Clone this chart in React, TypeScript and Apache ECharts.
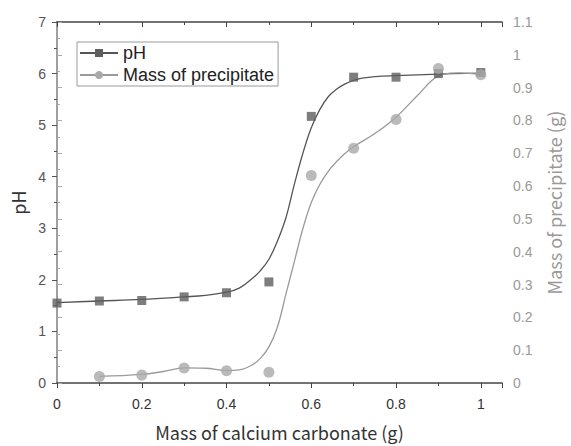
import React, { useEffect, useRef } from "react";
import * as echarts from "echarts";

// Measured points
const pointX = [0, 0.1, 0.2, 0.3, 0.4, 0.5, 0.6, 0.7, 0.8, 0.9, 1.0];
const phPoints = [1.55, 1.59, 1.60, 1.67, 1.75, 1.96, 5.17, 5.93, 5.93, 6.0, 6.02];
const massX = [0.1, 0.2, 0.3, 0.4, 0.5, 0.6, 0.7, 0.8, 0.9, 1.0];
const massPoints = [0.02, 0.024, 0.046, 0.037, 0.033, 0.632, 0.715, 0.803, 0.958, 0.939];

// Fitted curves
const phCurveX = [0, 0.1, 0.2, 0.3, 0.35, 0.4, 0.43, 0.46, 0.48, 0.5, 0.52, 0.54, 0.56, 0.58, 0.6, 0.62, 0.64, 0.66, 0.68, 0.7, 0.72, 0.75, 0.8, 0.9, 1.0];
const phCurveY = [1.56, 1.59, 1.62, 1.67, 1.70, 1.76, 1.84, 2.02, 2.18, 2.4, 2.75, 3.2, 3.85, 4.45, 4.95, 5.3, 5.55, 5.7, 5.8, 5.87, 5.91, 5.94, 5.96, 5.99, 6.01];
const massCurveX = [0.1, 0.2, 0.25, 0.3, 0.35, 0.4, 0.43, 0.46, 0.48, 0.5, 0.52, 0.54, 0.56, 0.58, 0.6, 0.62, 0.64, 0.66, 0.68, 0.7, 0.75, 0.8, 0.85, 0.9, 0.95, 1.0];
const massCurveY = [0.02, 0.026, 0.035, 0.046, 0.045, 0.038, 0.04, 0.055, 0.075, 0.11, 0.17, 0.27, 0.37, 0.47, 0.55, 0.605, 0.645, 0.675, 0.70, 0.72, 0.76, 0.81, 0.875, 0.935, 0.945, 0.94];

const xTitle = "Mass of calcium carbonate (g)";
const yLeftTitle = "pH";
const yRightTitle = "Mass of precipitate (g)";
const seriesNames = ["pH", "Mass of precipitate"];

const DARK = "#5e5e5e";
const LIGHT = "#a9a9a9";
const TITLE_FONT = "'Noto Sans CJK JP', 'Noto Sans', sans-serif";
const TICK_FONT = "'Liberation Sans', Arial, sans-serif";

const zip = (xs: number[], ys: number[]) => xs.map((x, i) => [x, ys[i]]);

export default function App() {
  const ref = useRef<HTMLDivElement>(null);
  useEffect(() => {
    if (!ref.current) return;
    const chart = echarts.init(ref.current, undefined, { renderer: "svg" });
    const xCommon = {
      type: "value" as const,
      min: 0,
      max: 1.05,
      interval: 0.2,
      splitLine: { show: false },
    };
    chart.setOption({
      animation: false,
      backgroundColor: "#ffffff",
      grid: { left: 57, right: 61, top: 22, bottom: 59, containLabel: false },
      legend: {
        data: seriesNames,
        orient: "vertical",
        left: 77,
        top: 42,
        itemWidth: 38,
        itemHeight: 10,
        itemGap: 4,
        padding: [2, 4, 2, 2],
        borderColor: "#9a9a9a",
        borderWidth: 1,
        borderRadius: 0,
        textStyle: { fontFamily: TICK_FONT, fontSize: 18, lineHeight: 18, color: "#222" },
      },
      xAxis: [
        {
          ...xCommon,
          position: "bottom",
          name: xTitle,
          nameLocation: "middle",
          nameGap: 40,
          nameTextStyle: { fontFamily: TITLE_FONT, fontSize: 18, color: "#333" },
          axisLine: { onZero: false, lineStyle: { color: "#444", width: 1.5 } },
          axisTick: { inside: false, length: 5, lineStyle: { color: "#444" } },
          minorTick: { show: true, splitNumber: 2, length: 3, lineStyle: { color: "#444" } },
          axisLabel: {
            fontFamily: TICK_FONT,
            fontSize: 14,
            color: "#333",
            margin: 14,
            formatter: (v: number) => (Math.abs(v * 5 - Math.round(v * 5)) < 1e-6 ? String(Math.round(v * 10) / 10) : ""),
          },
        },
        {
          ...xCommon,
          position: "top",
          axisLine: { onZero: false, lineStyle: { color: "#444", width: 1.5 } },
          axisTick: { inside: true, length: 5, lineStyle: { color: "#444" } },
          minorTick: { show: true, splitNumber: 2, length: 3, lineStyle: { color: "#444" } },
          axisLabel: { show: false },
        },
      ],
      yAxis: [
        {
          type: "value",
          position: "left",
          min: 0,
          max: 7,
          interval: 1,
          name: yLeftTitle,
          nameLocation: "middle",
          nameGap: 28,
          nameTextStyle: { fontFamily: TITLE_FONT, fontSize: 18, color: "#333" },
          splitLine: { show: false },
          axisLine: { show: true, lineStyle: { color: "#555", width: 1.5 } },
          axisTick: { show: true, length: 5, lineStyle: { color: "#555" } },
          minorTick: { show: true, splitNumber: 2, length: 3, lineStyle: { color: "#555" } },
          axisLabel: { fontFamily: TICK_FONT, fontSize: 14, color: "#555", margin: 11 },
        },
        {
          type: "value",
          position: "right",
          min: 0,
          max: 1.1,
          interval: 0.1,
          name: yRightTitle,
          nameLocation: "middle",
          nameGap: 43,
          nameTextStyle: { fontFamily: TITLE_FONT, fontSize: 18, color: "#999" },
          splitLine: { show: false },
          axisLine: { show: true, lineStyle: { color: "#aaa", width: 1.5 } },
          axisTick: { show: true, length: 5, lineStyle: { color: "#aaa" } },
          minorTick: { show: true, splitNumber: 2, length: 3, lineStyle: { color: "#aaa" } },
          axisLabel: {
            fontFamily: TICK_FONT,
            fontSize: 14,
            color: "#999",
            margin: 11,
            formatter: (v: number) => String(Math.round(v * 10) / 10),
          },
        },
      ],
      series: [
        {
          name: seriesNames[0],
          type: "line",
          xAxisIndex: 0,
          yAxisIndex: 0,
          data: zip(phCurveX, phCurveY),
          smooth: 0.4,
          symbol: "rect",
          symbolSize: 9,
          showSymbol: false,
          itemStyle: { color: DARK },
          lineStyle: { color: "#555", width: 1.3 },
          z: 2,
        },
        {
          name: seriesNames[0],
          type: "scatter",
          xAxisIndex: 0,
          yAxisIndex: 0,
          data: zip(pointX, phPoints),
          symbol: "rect",
          symbolSize: 9,
          itemStyle: { color: DARK },
          z: 3,
        },
        {
          name: seriesNames[1],
          type: "line",
          xAxisIndex: 0,
          yAxisIndex: 1,
          data: zip(massCurveX, massCurveY),
          smooth: 0.4,
          symbol: "circle",
          symbolSize: 11,
          showSymbol: false,
          itemStyle: { color: LIGHT },
          lineStyle: { color: "#9a9a9a", width: 1.3 },
          z: 2,
        },
        {
          name: seriesNames[1],
          type: "scatter",
          xAxisIndex: 0,
          yAxisIndex: 1,
          data: zip(massX, massPoints),
          symbol: "circle",
          symbolSize: 11,
          itemStyle: { color: LIGHT },
          z: 3,
        },
      ],
    });
    return () => chart.dispose();
  }, []);
  return <div ref={ref} style={{ width: 571, height: 446, position: "absolute", left: 0, top: 0 }} />;
}
